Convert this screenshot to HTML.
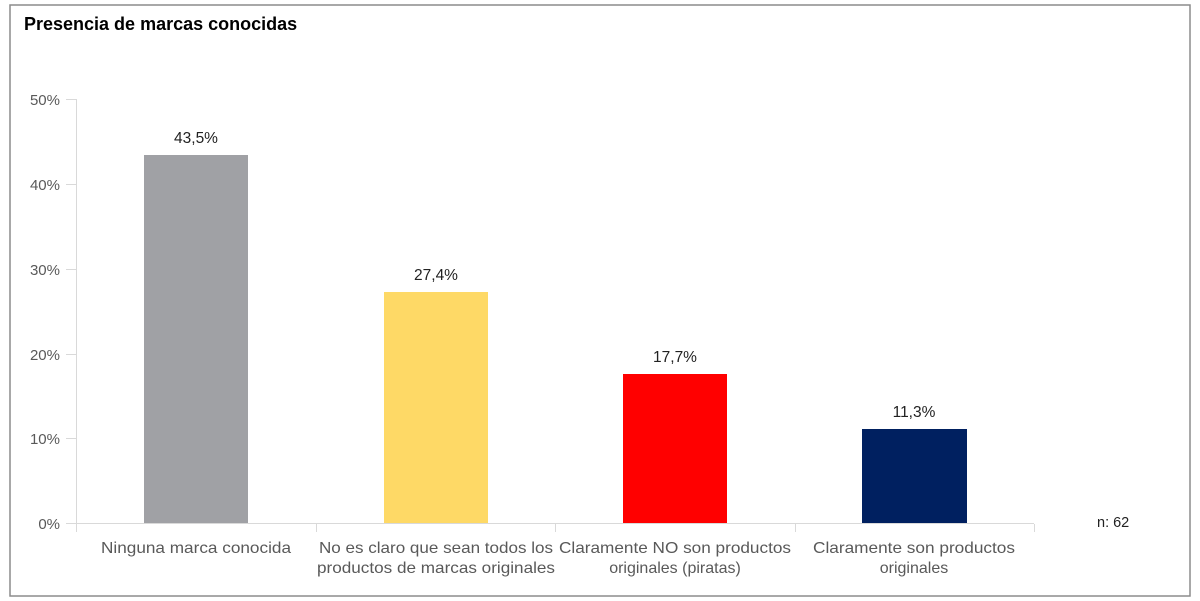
<!DOCTYPE html>
<html><head><meta charset="utf-8"><style>
html,body{margin:0;padding:0;background:#fff;}
svg{display:block;font-family:"Liberation Sans",sans-serif;}
</style></head><body>
<svg width="1200" height="601" viewBox="0 0 1200 601">
<rect x="10" y="5" width="1180" height="591" fill="#fff" stroke="#8c8c8c" stroke-width="1.5"/>
<text x="24" y="30" font-size="18" font-weight="bold" fill="#000">Presencia de marcas conocidas</text>
<g stroke="#d9d9d9" stroke-width="1">
<line x1="76.5" y1="99" x2="76.5" y2="524"/>
<line x1="66" y1="523.5" x2="1034" y2="523.5"/>
<line x1="66" y1="99.5" x2="76" y2="99.5"/>
<line x1="66" y1="184.5" x2="76" y2="184.5"/>
<line x1="66" y1="269.5" x2="76" y2="269.5"/>
<line x1="66" y1="354.5" x2="76" y2="354.5"/>
<line x1="66" y1="438.5" x2="76" y2="438.5"/>
<line x1="76.5" y1="524" x2="76.5" y2="532"/>
<line x1="316.5" y1="524" x2="316.5" y2="532"/>
<line x1="555.5" y1="524" x2="555.5" y2="532"/>
<line x1="795.5" y1="524" x2="795.5" y2="532"/>
<line x1="1034.5" y1="524" x2="1034.5" y2="532"/>
</g>
<g font-size="15" fill="#595959" text-anchor="end">
<text x="60" y="105">50%</text>
<text x="60" y="190">40%</text>
<text x="60" y="275">30%</text>
<text x="60" y="360">20%</text>
<text x="60" y="444">10%</text>
<text x="60" y="529">0%</text>
</g>
<rect x="144" y="155" width="104" height="368" fill="#a0a1a5"/>
<rect x="384" y="292" width="104" height="231" fill="#fed966"/>
<rect x="623" y="374" width="104" height="149" fill="#ff0000"/>
<rect x="862" y="429" width="105" height="94" fill="#002060"/>
<g font-size="15.5" fill="#222" text-anchor="middle">
<text x="196" y="143">43,5%</text>
<text x="436" y="280">27,4%</text>
<text x="675" y="362">17,7%</text>
<text x="914" y="417">11,3%</text>
</g>
<g font-size="16" fill="#595959" text-anchor="middle">
<text x="196" y="553" textLength="190" lengthAdjust="spacingAndGlyphs">Ninguna marca conocida</text>
<text x="436" y="553" textLength="234" lengthAdjust="spacingAndGlyphs">No es claro que sean todos los</text>
<text x="436" y="573" textLength="238" lengthAdjust="spacingAndGlyphs">productos de marcas originales</text>
<text x="675" y="553" textLength="232" lengthAdjust="spacingAndGlyphs">Claramente NO son productos</text>
<text x="675" y="573">originales (piratas)</text>
<text x="914" y="553" textLength="202" lengthAdjust="spacingAndGlyphs">Claramente son productos</text>
<text x="914" y="573">originales</text>
</g>
<text x="1097" y="527" font-size="14.5" fill="#222">n: 62</text>
</svg>
</body></html>
